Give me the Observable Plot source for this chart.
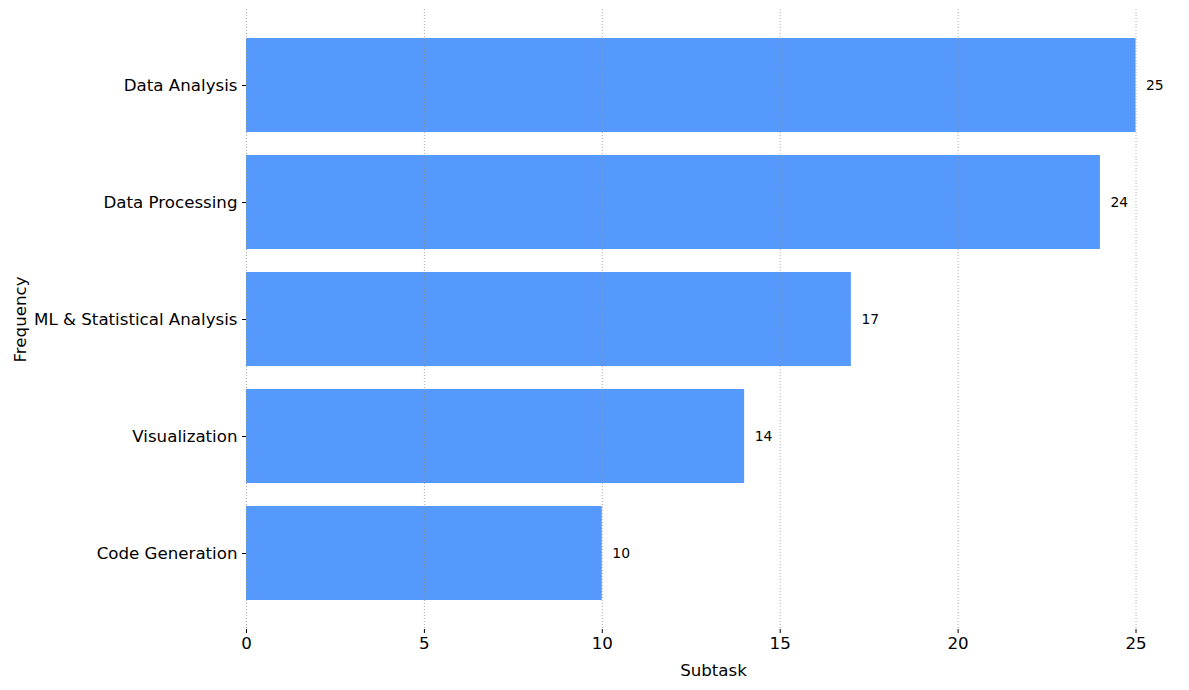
<!DOCTYPE html>
<html>
<head>
<meta charset="utf-8">
<script src="https://cdn.jsdelivr.net/npm/d3@7"></script>
<script src="https://cdn.jsdelivr.net/npm/@observablehq/plot@0.6"></script>
<style>
  html, body { margin: 0; padding: 0; background: #fff; }
</style>
</head>
<body>
<div id="chart"></div>
<script>
const categories = ["Data Analysis", "Data Processing", "ML & Statistical Analysis", "Visualization", "Code Generation"];
const values = [25, 24, 17, 14, 10];
const xTicks = [0, 5, 10, 15, 20, 25];

const data = categories.map((c, i) => ({category: c, value: values[i]}));

const chart = Plot.plot({
  width: 1189,
  height: 690,
  marginLeft: 246,
  marginRight: 9,
  marginTop: 9,
  marginBottom: 61,
  style: {fontFamily: "DejaVu Sans", fontSize: "16.67px", color: "#000", background: "#fff"},
  x: {domain: [0, 26.25]},
  y: {domain: categories, paddingInner: 0.2, paddingOuter: 0.24},
  marks: [
    Plot.barX(data, {x: "value", y: "category", fill: "#5599fc"}),
    Plot.gridX(xTicks, {stroke: "#999", strokeOpacity: 0.8, strokeDasharray: "1,2", strokeWidth: 1}),
    Plot.text(data, {x: "value", y: "category", text: d => String(d.value), textAnchor: "start", dx: 10, fontSize: 13.9, fill: "#000"}),
    Plot.axisX({ticks: xTicks, tickSize: 4, tickPadding: 4, label: "Subtask", labelAnchor: "center", labelArrow: "none", labelOffset: 46, tickFormat: d => String(d)}),
    Plot.axisY({tickSize: 4, tickPadding: 5, label: "Frequency", labelAnchor: "center", labelArrow: "none", labelOffset: 232})
  ]
});
document.getElementById("chart").appendChild(chart);
</script>
</body>
</html>
